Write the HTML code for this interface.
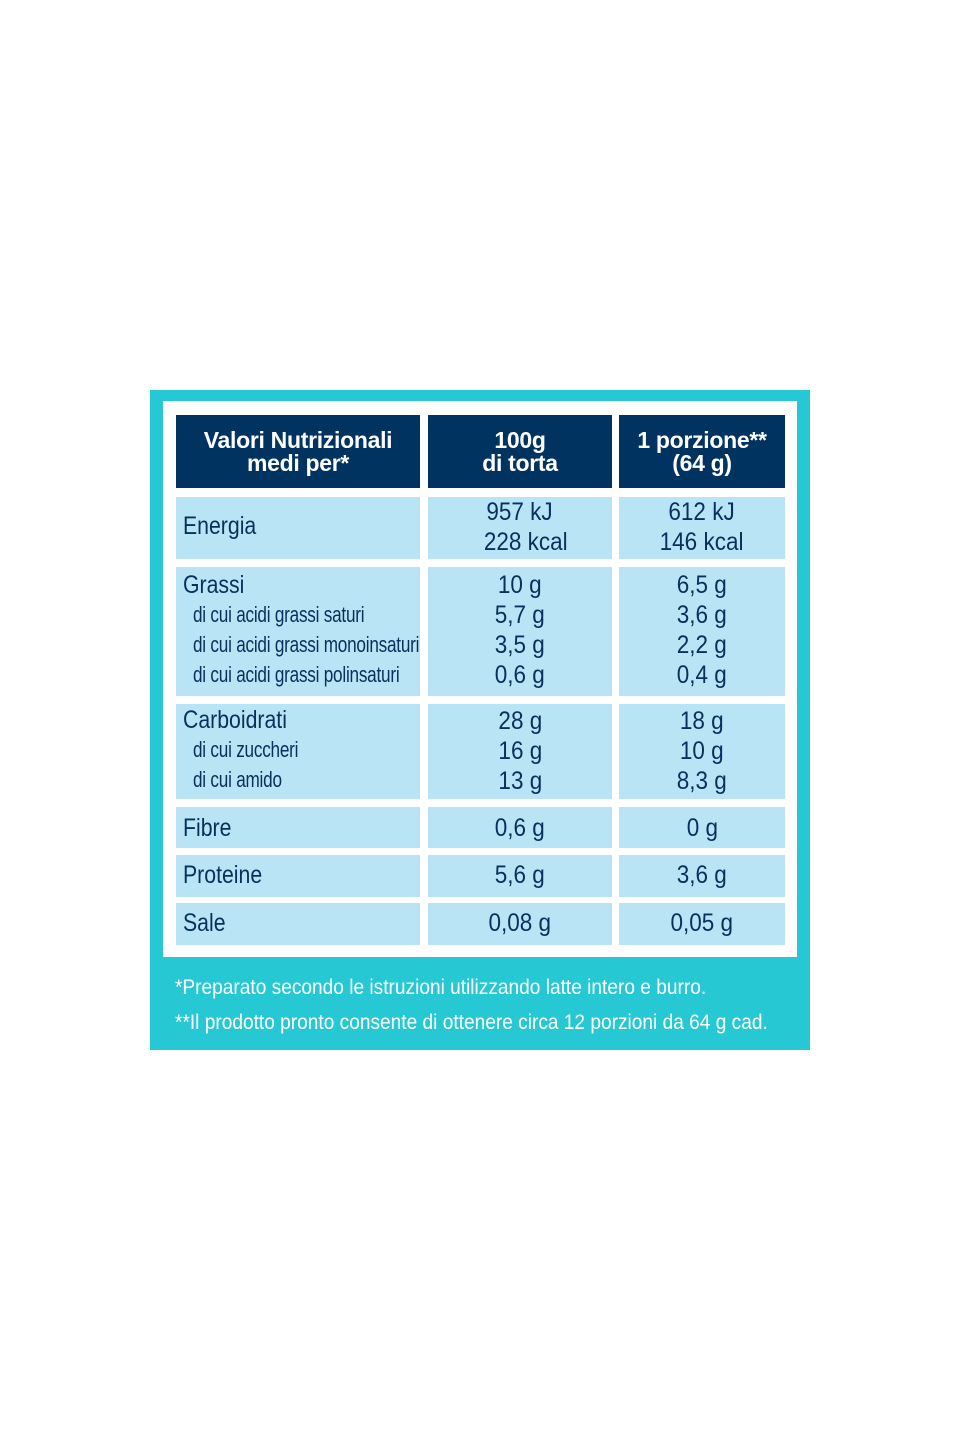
<!DOCTYPE html>
<html><head><meta charset="utf-8"><style>
body{margin:0;width:960px;height:1440px;background:#fff;position:relative;font-family:"Liberation Sans",sans-serif;color:#0b2f5c}
.a{position:absolute}
.teal{left:150px;top:390px;width:660px;height:660px;background:#26c8d3}
.inner{left:163px;top:401px;width:634px;height:556px;background:#fff}
.h{background:#003360;color:#fff;font-weight:bold;font-size:23px;line-height:23px;text-align:center;display:flex;align-items:center;justify-content:center;letter-spacing:-0.3px}
.c{background:#b8e4f6}
.l{font-size:25px;line-height:30px;padding-left:7px;box-sizing:border-box}
.t{display:inline-block;white-space:nowrap;transform:scaleX(.85);transform-origin:left}
.s{display:block;font-size:22px;margin-left:10px;white-space:nowrap;transform:scaleX(.78);transform-origin:left;letter-spacing:-0.3px}
.v{font-size:25px;line-height:30px;text-align:center;white-space:nowrap}
.v span{display:inline-block;transform:scaleX(.9)}
.f{color:#fff;font-size:21px;left:175px;white-space:nowrap;transform:scaleX(.91);transform-origin:left}
</style></head><body>
<div class="a teal"></div>
<div class="a inner"></div>
<div class="a h" style="left:176px;top:415px;width:244px;height:73px">Valori Nutrizionali<br>medi per*</div>
<div class="a h" style="left:428px;top:415px;width:184px;height:73px">100g<br>di torta</div>
<div class="a h" style="left:619px;top:415px;width:166px;height:73px">1 porzione**<br>(64 g)</div>

<div class="a c l" style="left:176px;top:497px;width:244px;height:62px;padding-top:14px"><span class="t">Energia</span></div>
<div class="a c v" style="left:428px;top:497px;width:184px;height:62px"><span>957 kJ<br>&nbsp;&nbsp;228 kcal</span></div>
<div class="a c v" style="left:619px;top:497px;width:166px;height:62px"><span>612 kJ<br>146 kcal</span></div>

<div class="a c l" style="left:176px;top:567px;width:244px;height:129px;padding-top:3px"><span class="t">Grassi</span><span class="s">di cui acidi grassi saturi</span><span class="s">di cui acidi grassi monoinsaturi</span><span class="s">di cui acidi grassi polinsaturi</span></div>
<div class="a c v" style="left:428px;top:567px;width:184px;height:129px;padding-top:3px;box-sizing:border-box"><span>10 g<br>5,7 g<br>3,5 g<br>0,6 g</span></div>
<div class="a c v" style="left:619px;top:567px;width:166px;height:129px;padding-top:3px;box-sizing:border-box"><span>6,5 g<br>3,6 g<br>2,2 g<br>0,4 g</span></div>

<div class="a c l" style="left:176px;top:704px;width:244px;height:95px;padding-top:1px"><span class="t">Carboidrati</span><span class="s">di cui zuccheri</span><span class="s">di cui amido</span></div>
<div class="a c v" style="left:428px;top:704px;width:184px;height:95px;padding-top:2px;box-sizing:border-box"><span>28 g<br>16 g<br>13 g</span></div>
<div class="a c v" style="left:619px;top:704px;width:166px;height:95px;padding-top:2px;box-sizing:border-box"><span>18 g<br>10 g<br>8,3 g</span></div>

<div class="a c l" style="left:176px;top:807px;width:244px;height:41px;padding-top:6px"><span class="t">Fibre</span></div>
<div class="a c v" style="left:428px;top:807px;width:184px;height:41px;padding-top:6px;box-sizing:border-box"><span>0,6 g</span></div>
<div class="a c v" style="left:619px;top:807px;width:166px;height:41px;padding-top:6px;box-sizing:border-box"><span>0 g</span></div>

<div class="a c l" style="left:176px;top:855px;width:244px;height:42px;padding-top:5px"><span class="t">Proteine</span></div>
<div class="a c v" style="left:428px;top:855px;width:184px;height:42px;padding-top:5px;box-sizing:border-box"><span>5,6 g</span></div>
<div class="a c v" style="left:619px;top:855px;width:166px;height:42px;padding-top:5px;box-sizing:border-box"><span>3,6 g</span></div>

<div class="a c l" style="left:176px;top:903px;width:244px;height:42px;padding-top:5px"><span class="t">Sale</span></div>
<div class="a c v" style="left:428px;top:903px;width:184px;height:42px;padding-top:5px;box-sizing:border-box"><span>0,08 g</span></div>
<div class="a c v" style="left:619px;top:903px;width:166px;height:42px;padding-top:5px;box-sizing:border-box"><span>0,05 g</span></div>

<div class="a f" style="top:976px">*Preparato secondo le istruzioni utilizzando latte intero e burro.</div>
<div class="a f" style="top:1011px">**Il prodotto pronto consente di ottenere circa 12 porzioni da 64 g cad.</div>
</body></html>
